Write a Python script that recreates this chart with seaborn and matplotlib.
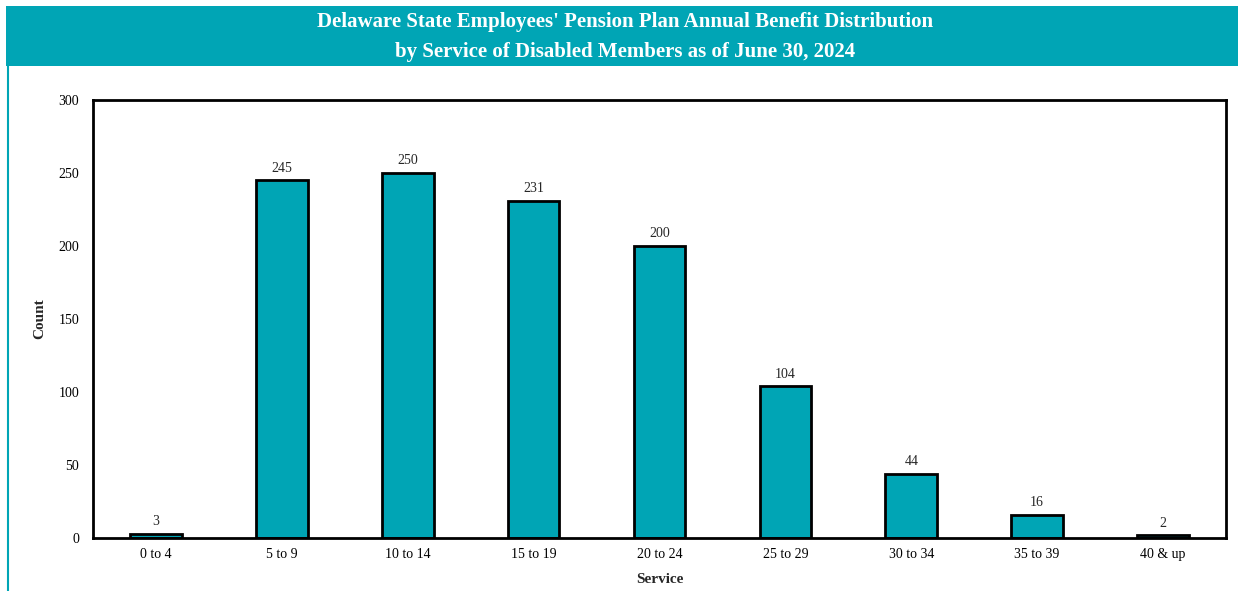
import matplotlib
matplotlib.use("Agg")
import matplotlib.pyplot as plt
import seaborn as sns
import pandas as pd
from matplotlib.patches import Rectangle
from matplotlib.lines import Line2D

categories = ["0 to 4", "5 to 9", "10 to 14", "15 to 19", "20 to 24", "25 to 29", "30 to 34", "35 to 39", "40 & up"]
counts = [3, 245, 250, 231, 200, 104, 44, 16, 2]
yticks = [0, 50, 100, 150, 200, 250, 300]
title_lines = ["Delaware State Employees' Pension Plan Annual Benefit Distribution",
               "by Service of Disabled Members as of June 30, 2024"]

TEAL = "#00A5B5"

sns.set_theme(style="white")
plt.rcParams['font.family'] = ['Liberation Serif', 'DejaVu Serif']

df = pd.DataFrame({"Service": categories, "Count": counts})

fig = plt.figure(figsize=(12.38, 5.91), dpi=100)
ax = fig.add_axes([93/1238, 1-538/591, (1226-93)/1238, (538-100)/591])

sns.barplot(data=df, x="Service", y="Count", ax=ax, color=TEAL, saturation=1,
            width=0.41, edgecolor="black", linewidth=2.0)

ax.set_ylim(0, 300)
ax.set_yticks(yticks)
ax.set_xlim(-0.5, len(categories) - 0.5)
for s in ax.spines.values():
    s.set_visible(True)
    s.set_color("black")
    s.set_linewidth(2.0)
ax.tick_params(axis="x", length=0, labelsize=10, colors="black", pad=7)
ax.tick_params(axis="y", direction="in", length=4, width=1, labelsize=10, colors="black", pad=10)
ax.set_xlabel("Service", fontsize=11, fontweight="bold", labelpad=8.5)
ax.set_ylabel("Count", fontsize=11, fontweight="bold", labelpad=9)

for cont in ax.containers:
    ax.bar_label(cont, labels=[str(v) for v in counts], padding=4, fontsize=10)

# Title banner
fig.patches.append(Rectangle((6/1238, 1-66/591), 1-6/1238, 60/591,
                             transform=fig.transFigure, facecolor=TEAL, edgecolor="none", zorder=0))
fig.lines.append(Line2D([7.5/1238, 7.5/1238], [0, 1-66/591], transform=fig.transFigure,
                        color=TEAL, linewidth=1.5))
fig.text(625/1238, 1-22/591, title_lines[0], ha="center", va="center", color="white",
         fontsize=15, fontweight="bold")
fig.text(625/1238, 1-52/591, title_lines[1], ha="center", va="center", color="white",
         fontsize=15, fontweight="bold")

fig.savefig("out.png", dpi=100, facecolor="white")
